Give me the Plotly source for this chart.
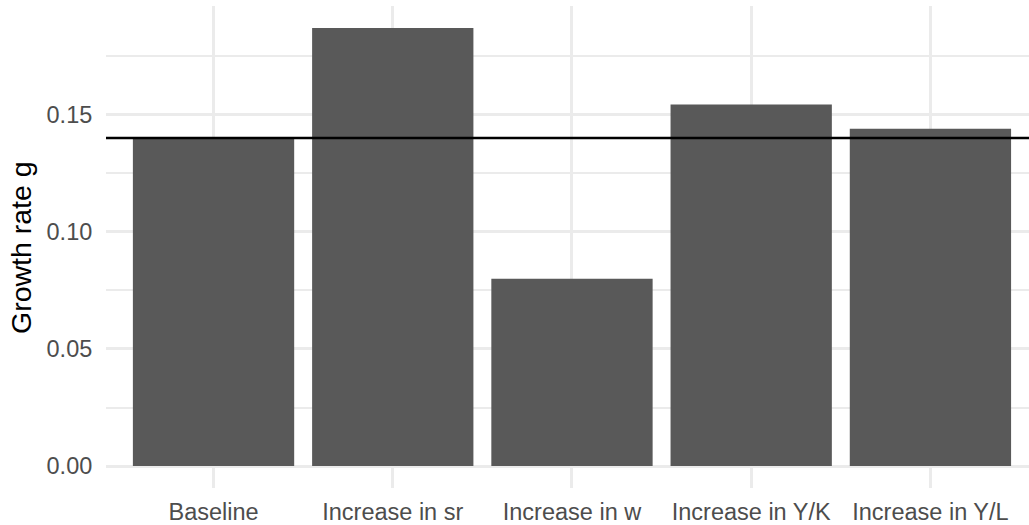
import plotly.graph_objects as go

categories = ["Baseline", "Increase in sr", "Increase in w", "Increase in Y/K", "Increase in Y/L"]
growth = [0.140, 0.187, 0.080, 0.1543, 0.144]
baseline_rate = 0.14
y_ticks = [0.00, 0.05, 0.10, 0.15]
y_tick_labels = ["0.00", "0.05", "0.10", "0.15"]
y_minor = [0.025, 0.075, 0.125, 0.175]
y_title = "Growth rate g"

FONT = "Liberation Sans, Arial, Helvetica, sans-serif"
GRID = "#EBEBEB"

fig = go.Figure()
fig.add_trace(go.Bar(x=categories, y=growth, marker=dict(color="#595959", line=dict(width=0)),
                     width=0.9))

fig.add_shape(type="line", xref="paper", x0=0, x1=1, yref="y", y0=baseline_rate, y1=baseline_rate,
              line=dict(color="black", width=2.5), layer="above")

fig.add_annotation(text=y_title, xref="paper", yref="paper", x=0, xshift=-85, y=0.5, yshift=-1,
                   textangle=-90, showarrow=False, xanchor="center", yanchor="middle",
                   font=dict(size=28.5, color="black", family=FONT))

fig.update_layout(
    width=1029, height=525,
    margin=dict(l=106, r=0, t=6, b=37),
    paper_bgcolor="white", plot_bgcolor="white",
    showlegend=False,
    font=dict(family=FONT),
    xaxis=dict(
        type="category", automargin=False,
        range=[-0.6, 4.55],
        showgrid=True, gridcolor=GRID, gridwidth=3,
        zeroline=False, showline=False,
        ticks="outside", ticklen=3, tickcolor="rgba(0,0,0,0)",
        tickfont=dict(size=23.5, color="#4D4D4D", family=FONT),
    ),
    yaxis=dict(
        automargin=False,
        range=[-0.00935, 0.19635],
        tickvals=y_ticks, ticktext=y_tick_labels,
        showgrid=True, gridcolor=GRID, gridwidth=3,
        minor=dict(tickvals=y_minor, showgrid=True, gridcolor=GRID, gridwidth=1.5),
        zeroline=False, showline=False,
        ticks="outside", ticklen=8, tickcolor="rgba(0,0,0,0)",
        tickfont=dict(size=23.5, color="#4D4D4D", family=FONT),
    ),
)

fig.write_html("out.html", config={"displayModeBar": False},
               post_script="document.body.style.margin='0';document.body.style.overflow='hidden';")
